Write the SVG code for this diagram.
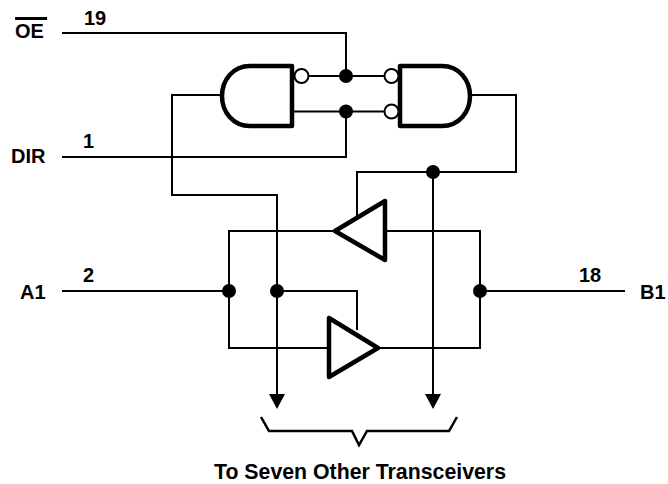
<svg xmlns="http://www.w3.org/2000/svg" width="668" height="484" viewBox="0 0 668 484">
<defs><style>
.w{fill:none;stroke:#000;stroke-width:2}
.br{fill:none;stroke:#000;stroke-width:2.500}
.g{fill:#fff;stroke:#000;stroke-width:4.5;stroke-linejoin:round}
.b{fill:#fff;stroke:#000;stroke-width:2}
.d{fill:#000}
.h{fill:#000}
text{font-family:"Liberation Sans",Arial,sans-serif;font-weight:bold;font-size:20px;fill:#000}
.c{font-size:21.300px}
</style></defs>
<rect width="668" height="484" fill="#fff"/>
<g id="connectors">
<path class="w" d="M62 33H346V76M309 76H385M292 111.500H385M62 157H346V111.500"/>
<path class="w" d="M221 95H172V195H277V398"/>
<path class="w" d="M470 95H516V172H357V216"/>
<path class="w" d="M433 172V398"/>
<path class="w" d="M385 231H480V348H378M335 231H229V348H329"/>
<path class="w" d="M62 291H229M277 291H357V330M480 291H625"/>
<path class="h" d="M269 394H285L277 409Z"/>
<path class="h" d="M425 394H441L433 409Z"/>
<path class="br" d="M261 417L269 431H352L359 445L367 431H449L457 417"/>
<circle class="d" cx="346" cy="76" r="7"/>
<circle class="d" cx="346" cy="111.500" r="7"/>
<circle class="d" cx="433" cy="172" r="7"/>
<circle class="d" cx="229" cy="291" r="7"/>
<circle class="d" cx="277" cy="291" r="7"/>
<circle class="d" cx="480" cy="291" r="7"/>
</g>
<g id="gate-left">
<path class="g" d="M292 66V126H250C233 126 222 112 222 96C222 80 233 66 250 66Z"/>
<circle class="b" cx="301.500" cy="76" r="7"/>
</g>
<g id="gate-right">
<path class="g" d="M400 66V126H442C459 126 470 112 470 96C470 80 459 66 442 66Z"/>
<circle class="b" cx="391.500" cy="76" r="7"/>
<circle class="b" cx="391.500" cy="111.500" r="7"/>
</g>
<g id="buffer-upper"><path class="g" d="M335 231L385 201V260Z"/></g>
<g id="buffer-lower"><path class="g" d="M329 318V377L378 348Z"/></g>
<g id="labels">
<text id="label-oe" x="15" y="38">OE</text>
<path d="M15 18.500H47" stroke="#000" stroke-width="3" fill="none"/>
<text x="84" y="25">19</text>
<text id="label-dir" x="11" y="163">DIR</text>
<text x="83" y="148">1</text>
<text id="label-a1" x="20" y="299">A1</text>
<text x="83" y="282">2</text>
<text id="label-b1" x="640" y="299">B1</text>
<text x="579" y="282">18</text>
<text id="label-caption" class="c" x="360" y="479" text-anchor="middle">To Seven Other Transceivers</text>
</g>
</svg>
